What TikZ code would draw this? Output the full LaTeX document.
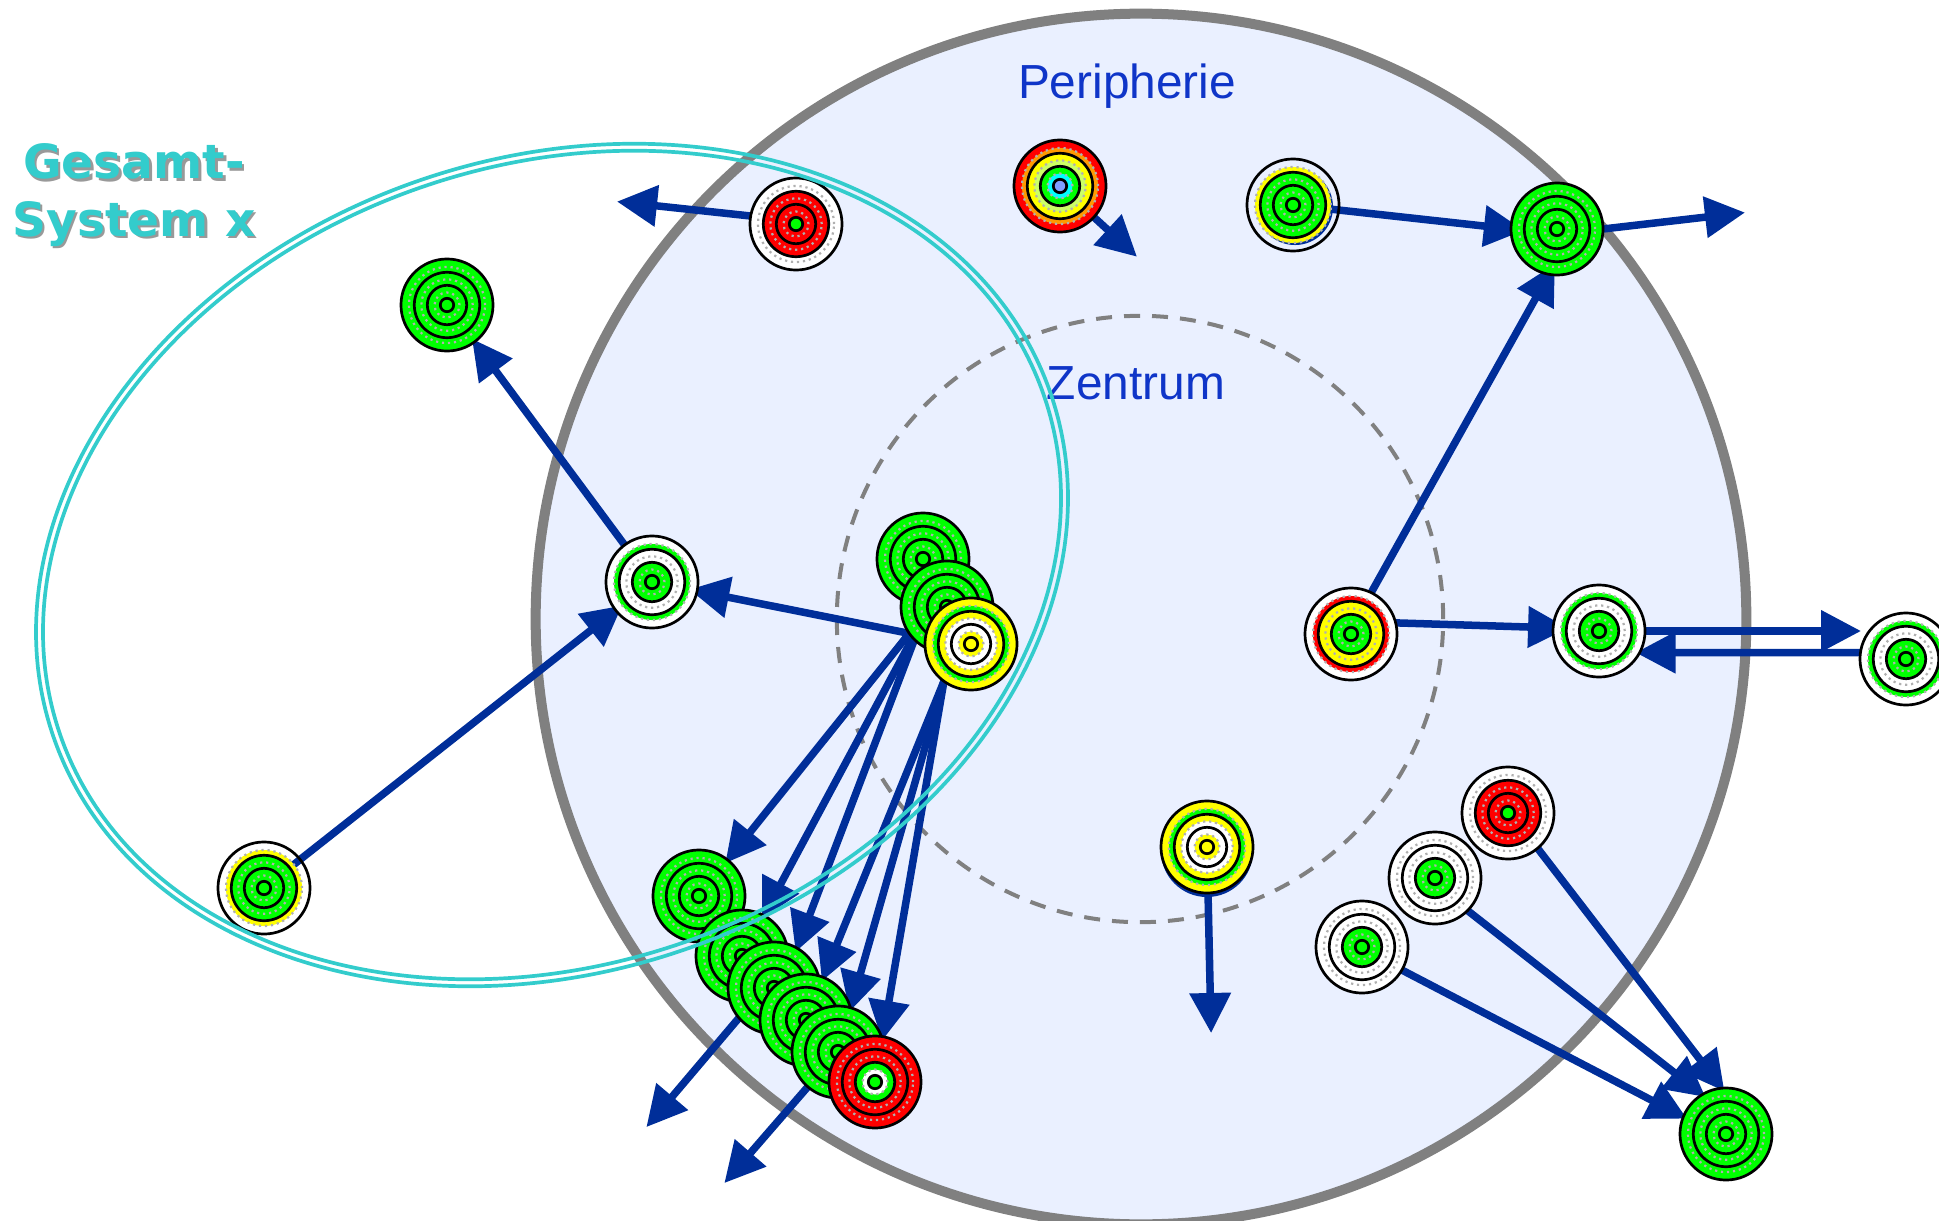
\documentclass[tikz,border=0pt]{standalone}
\usepackage{fontspec}
\setmainfont{Liberation Sans}
\newfontfamily\gesamtfont{DejaVu Sans}
\usetikzlibrary{positioning, arrows.meta, calc, shapes.geometric, backgrounds}
\definecolor{flow}{HTML}{002E99}
\definecolor{rim}{HTML}{808080}
\definecolor{disc}{HTML}{EAF0FF}
\definecolor{turq}{HTML}{33CCCC}
\definecolor{label}{HTML}{0F35C8}
\definecolor{gr}{HTML}{00FF00}
\definecolor{re}{HTML}{FF0000}
\definecolor{ye}{HTML}{FFFF00}
\definecolor{wh}{HTML}{FFFFFF}
\definecolor{ora}{HTML}{FF9900}
\definecolor{lim}{HTML}{CCFF66}
\definecolor{cya}{HTML}{00FFFF}
\definecolor{lbl}{HTML}{7F9FFF}
\definecolor{spot}{HTML}{B0B0B0}

% name, position, then the seven colours from the rim inwards
\newcommand{\target}[9]{%
  \node[unit, fill=#3] (#1) at (#2) {};
  \fill[#4] (#1) circle (0.38cm);
  \draw[fill=#5, ringline] (#1) circle (0.327cm);
  \fill[#6] (#1) circle (0.257cm);
  \draw[fill=#7, ringline] (#1) circle (0.197cm);
  \fill[#8] (#1) circle (0.125cm);
  \draw[spots] (#1) circle (0.38cm);
  \draw[spots] (#1) circle (0.257cm);
  \draw[spots] (#1) circle (0.125cm);
  \draw[fill=#9, ringline] (#1) circle (0.067cm);
}

\begin{document}
\begin{tikzpicture}[x=0.01cm, y=-0.01cm]
  \tikzstyle{unit} = [circle, draw=black, line width=0.027cm, minimum size=0.92cm, inner sep=0pt, outer sep=0pt]
  \tikzstyle{ringline} = [draw=black, line width=0.027cm]
  \tikzstyle{spots} = [draw=spot, line width=0.022cm, dash pattern=on 0.022cm off 0.038cm]
  \tikzstyle{flowline} = [draw=flow, line width=0.075cm, -{Triangle[length=0.4cm, width=0.4cm]}, shorten >=-0.04cm]
  \tikzstyle{bound} = [ellipse, draw=turq, line width=0.037cm, rotate=19, inner sep=0pt, outer sep=0pt]
  \tikzstyle{place} = [text=label, font=\fontsize{13.6}{16}\selectfont]
  \tikzstyle{gesamtlabel} = [align=center, font=\gesamtfont\bfseries\fontsize{13.4}{16.4}\selectfont]
  \useasboundingbox (0,0) rectangle (1939,1221);

  % Hidden disc below the yellow unit in the centre
  \node[circle, fill=flow, minimum size=0.92cm, inner sep=0pt] (zblue) at (1207,851) {};

  % Units, periphery
  \target{left}{447,305}{gr}{gr}{gr}{gr}{gr}{gr}{gr}
  \target{topred}{796,224}{wh}{wh}{re}{re}{re}{re}{gr}
  \target{rainbow}{1060,186}{re}{ora}{ye}{lim}{gr}{cya}{lbl}
  \target{topy}{1293,205}{none}{ye}{gr}{gr}{gr}{gr}{gr}
  \target{topg}{1557,229}{gr}{gr}{gr}{gr}{gr}{gr}{gr}
  \target{lowl}{264,888}{none}{ye}{gr}{gr}{gr}{gr}{gr}
  \target{mid}{652,582}{wh}{gr}{wh}{wh}{gr}{gr}{gr}
  \target{east}{1351,634}{wh}{re}{ye}{ye}{gr}{gr}{gr}
  \target{eastb}{1599,631}{wh}{gr}{wh}{wh}{gr}{gr}{gr}
  \target{outer}{1906,659}{wh}{gr}{wh}{wh}{gr}{gr}{gr}
  \target{wa}{1508,813}{wh}{wh}{re}{re}{re}{re}{gr}
  \target{wb}{1435,878}{wh}{wh}{wh}{wh}{gr}{gr}{gr}
  \target{wc}{1362,947}{wh}{wh}{wh}{wh}{gr}{gr}{gr}
  \target{sink}{1726,1134}{gr}{gr}{gr}{gr}{gr}{gr}{gr}

  % Units, centre
  \target{ctop}{923,559}{gr}{gr}{gr}{gr}{gr}{gr}{gr}
  \target{cmid}{947,607}{gr}{gr}{gr}{gr}{gr}{gr}{gr}
  \target{cye}{971,644}{ye}{gr}{ye}{wh}{wh}{ye}{ye}
  \target{zye}{1207,847}{ye}{gr}{ye}{wh}{wh}{ye}{ye}

  % Units, lower chain
  \target{ga}{699,896}{gr}{gr}{gr}{gr}{gr}{gr}{gr}
  \target{gb}{742,956}{gr}{gr}{gr}{gr}{gr}{gr}{gr}
  \target{gc}{774,988}{gr}{gr}{gr}{gr}{gr}{gr}{gr}
  \target{gd}{806,1020}{gr}{gr}{gr}{gr}{gr}{gr}{gr}
  \target{ge}{838,1052}{gr}{gr}{gr}{gr}{gr}{gr}{gr}
  \target{chainred}{875,1082}{re}{re}{re}{re}{gr}{wh}{gr}

  % Free arrow ends
  \coordinate (endtl) at (621,202);
  \coordinate (endrb) at (1134,254);
  \coordinate (endtg) at (1741,213);
  \coordinate (endz) at (1211,1029);
  \coordinate (endga) at (649,1124);
  \coordinate (endgb) at (727,1180);
  \coordinate (endout) at (1857,631);

  % Discs and arrows
  \begin{scope}[on background layer]
    \clip (0,0) rectangle (1939,1221);
    \draw[rim, fill=disc, line width=0.1cm] (1141,619) circle (6.05cm);
    \draw[rim, line width=0.04cm, dash pattern=on 0.16cm off 0.12cm] (1140,619) circle (3.03cm);
    \node[circle, fill=flow, minimum size=0.76cm, inner sep=0pt] (topblue) at (1295,207) {};

    \draw[flowline] (topred.170) -- (endtl);
    \draw[flowline] (rainbow) -- (endrb);
    \draw[flowline, shorten >=-0.13cm] (topy.center) -- (topg.west);
    \draw[flowline] (topg.east) -- (endtg);
    \draw[flowline, shorten >=-0.08cm] (lowl.center) -- (mid);
    \draw[flowline] (mid) -- (left);
    \draw[flowline, shorten >=-0.08cm] (cmid.215) -- (mid);
    \draw[flowline] (cmid.215) -- (ga);
    \draw[flowline] (cmid.222) -- (gb);
    \draw[flowline] (cmid.225) -- (gc.60);
    \draw[flowline] (cye.234) -- (gd);
    \draw[flowline] (cye.234) -- (ge);
    \draw[flowline] (cye.234) -- (chainred);
    \draw[flowline] (gc.59) -- (endga);
    \draw[flowline] (ge) -- (endgb);
    \draw[flowline] (zye) -- (endz);
    \draw[flowline, shorten >=-0.12cm] (east.64) -- (topg.-100);
    \draw[flowline, shorten >=-0.15cm] (east.14) -- (eastb.176);
    \draw[flowline] (eastb.east) -- (endout);
    \draw[flowline] (outer.172) -- (eastb.-28);
    \draw[flowline] (wa.-50) -- (sink.95);
    \draw[flowline] (wb.-45) -- (sink.121);
    \draw[flowline] (wc.-30) -- (sink.158);
  \end{scope}

  % Labels
  \node[place] (periphery) at (1127,86) {Peripherie};
  \node[place] (zentrum) at (1136,383) {Zentrum};
  \node[gesamtlabel, text=black!40] (gesamtshadow) at (136.5,197.5) {Gesamt-\\System x};
  \node[gesamtlabel, text=turq] (gesamt) at (134,195) {Gesamt-\\System x};

  % System boundary
  \node[bound, minimum width=10.54cm, minimum height=8.13cm] (boundout) at (552,565) {};
  \node[bound, minimum width=10.40cm, minimum height=7.99cm] (boundin) at (552,565) {};
\end{tikzpicture}
\end{document}
